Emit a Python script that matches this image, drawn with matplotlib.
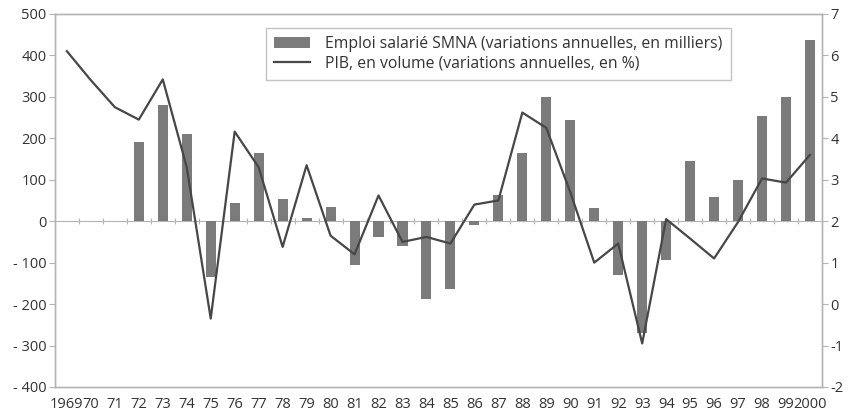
import numpy as np
import matplotlib
matplotlib.use("Agg")
import matplotlib.pyplot as plt

plt.rcParams['font.family'] = ['Open Sans', 'DejaVu Sans']

# %% Data
years = ['1969', '70', '71', '72', '73', '74', '75', '76', '77', '78', '79',
         '80', '81', '82', '83', '84', '85', '86', '87', '88', '89', '90',
         '91', '92', '93', '94', '95', '96', '97', '98', '99', '2000']
# Emploi salarie SMNA, variations annuelles (milliers)
emploi = [np.nan, np.nan, np.nan, 192, 280, 210, -135, 45, 165, 53, 8,
          35, -105, -38, -60, -187, -163, -10, 62, 165, 300, 243,
          32, -130, -270, -93, 146, 58, 100, 253, 299, 437]
# PIB en volume, variations annuelles (%)
pib = [6.1, 5.4, 4.75, 4.45, 5.42, 3.3, -0.35, 4.16, 3.3, 1.38, 3.35,
       1.65, 1.2, 2.62, 1.5, 1.62, 1.46, 2.4, 2.5, 4.62, 4.25, 2.7,
       1.0, 1.46, -0.95, 2.05, 1.58, 1.1, 1.98, 3.03, 2.93, 3.6]

left_ticks = [500, 400, 300, 200, 100, 0, -100, -200, -300, -400]
right_ticks = [7, 6, 5, 4, 3, 2, 1, 0, -1, -2]

bar_col = '#7b7b7b'
line_col = '#474747'
axis_col = '#b4b4b4'
text_col = '#333333'

x = np.arange(len(years))

# %% Figure
fig = plt.figure(figsize=(8.58, 4.15), dpi=100)
ax = fig.add_axes([0.064, 0.0675, 0.894, 0.899])
ax2 = ax.twinx()

b = ax.bar(x, emploi, width=0.42, color=bar_col, zorder=2,
           label='Emploi salarié SMNA (variations annuelles, en milliers)')
l, = ax2.plot(x, pib, color=line_col, lw=1.6, zorder=3,
              label='PIB, en volume (variations annuelles, en %)')

ax.set_xlim(-0.5, len(years) - 0.5)
ax.set_ylim(-400, 500)
ax2.set_ylim(-2, 7)

ax.set_yticks(left_ticks)
ax.set_yticklabels([str(v) if v >= 0 else '- ' + str(-v) for v in left_ticks])
ax2.set_yticks(right_ticks)
ax2.set_yticklabels([str(v) if v >= 0 else '-' + str(-v) for v in right_ticks])

ax.set_xticks(x)
ax.set_xticklabels(years)
ax.tick_params(axis='x', length=0, pad=7, labelsize=10.5, colors=text_col)
ax.tick_params(axis='y', length=4, width=0.8, color=axis_col, pad=2,
               labelsize=10.5, labelcolor=text_col)
ax2.tick_params(axis='y', length=4, width=0.8, color=axis_col, pad=2,
                labelsize=10.5, labelcolor=text_col)

for a in (ax, ax2):
    for s in a.spines.values():
        s.set_color(axis_col)
        s.set_linewidth(1.0)

# zero line with small ticks between the years
sec = ax.secondary_xaxis(4 / 9)
sec.set_xticks(x[:-1] + 0.5)
sec.set_xticklabels([])
sec.tick_params(axis='x', direction='inout', length=5, width=0.8, color=axis_col)
sec.spines['bottom'].set_color(axis_col)
sec.spines['top'].set_color(axis_col)

leg = ax2.legend([b, l], [b.get_label(), l.get_label()],
                 loc='upper left', bbox_to_anchor=(0.275, 0.962),
                 fontsize=11.3, frameon=True, fancybox=False,
                 edgecolor=axis_col, borderpad=0.5, handlelength=2.3,
                 handletextpad=1.0, labelspacing=0.25, borderaxespad=0)
leg.get_frame().set_linewidth(1.0)
for t in leg.get_texts():
    t.set_color(text_col)

fig.savefig('out.png', dpi=100)
